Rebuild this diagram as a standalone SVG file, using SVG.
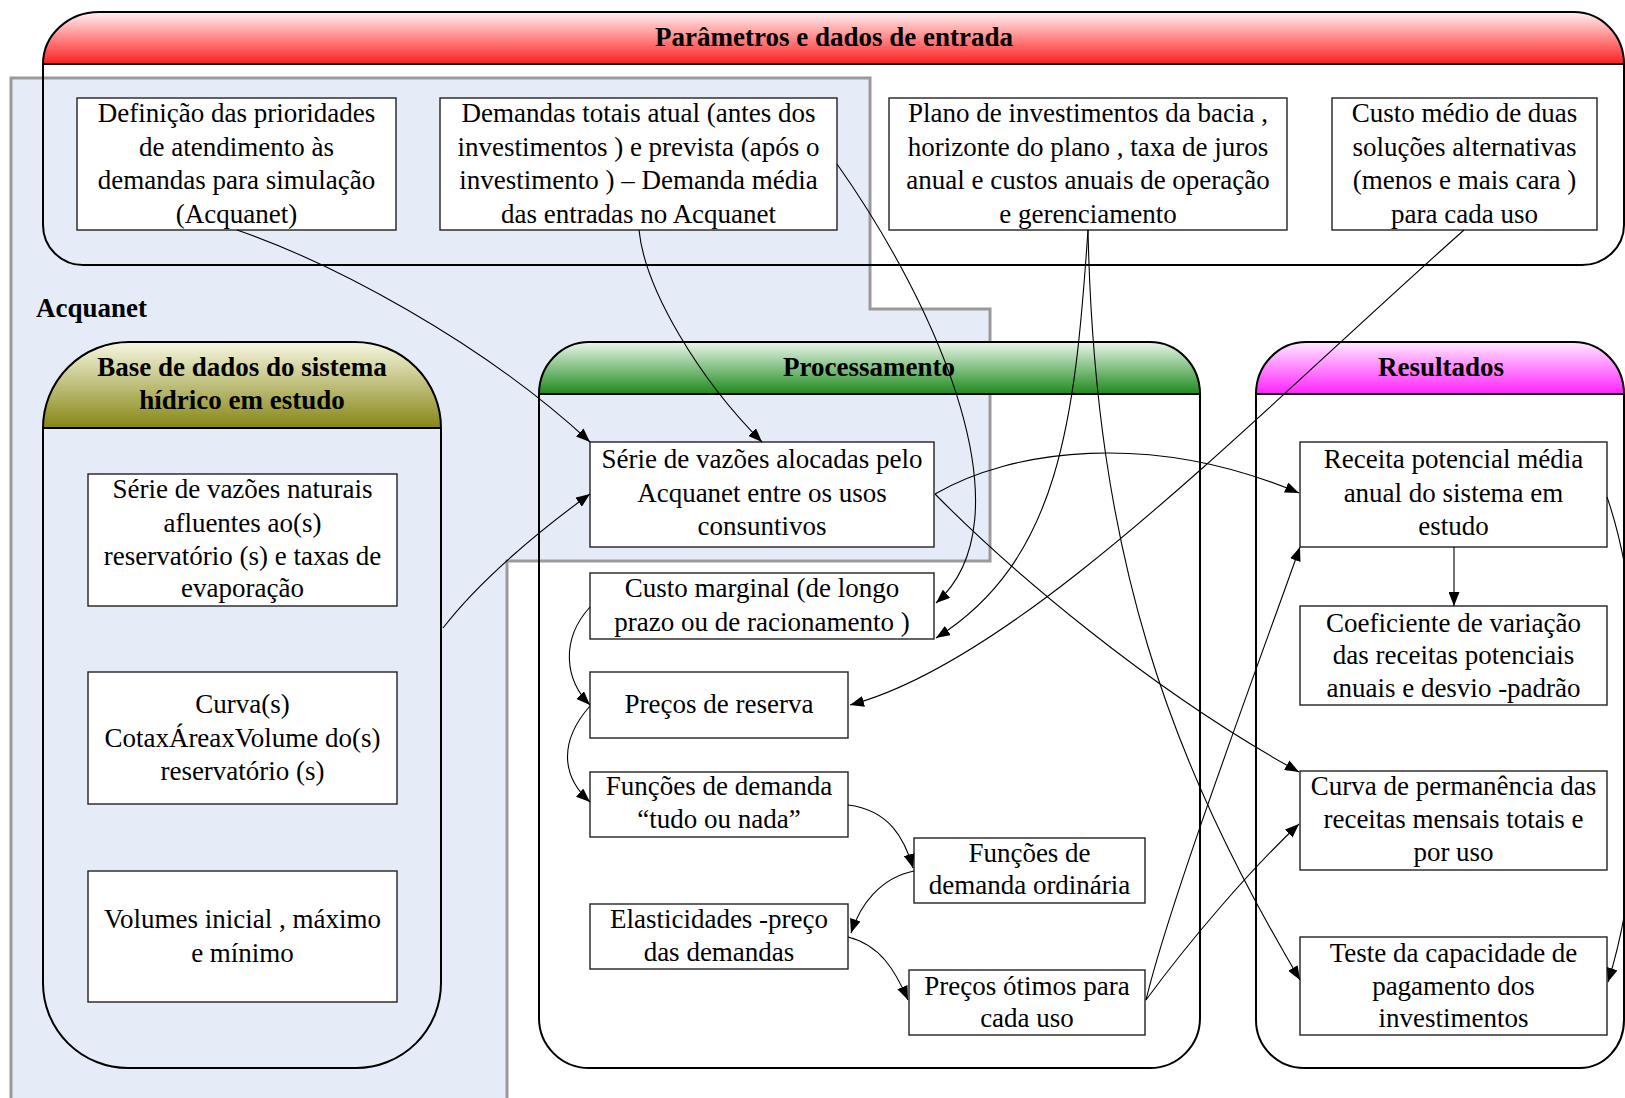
<svg xmlns="http://www.w3.org/2000/svg" width="1625" height="1098" viewBox="0 0 1625 1098">
<defs>
<linearGradient id="gRed" x1="0" y1="0" x2="0" y2="1"><stop offset="0" stop-color="#fff2f2"/><stop offset="1" stop-color="#ff1e1e"/></linearGradient>
<linearGradient id="gGreen" x1="0" y1="0" x2="0" y2="1"><stop offset="0" stop-color="#eaf6ea"/><stop offset="1" stop-color="#1d8a1d"/></linearGradient>
<linearGradient id="gOlive" x1="0" y1="0" x2="0" y2="1"><stop offset="0" stop-color="#f7f7e2"/><stop offset="1" stop-color="#868614"/></linearGradient>
<linearGradient id="gMag" x1="0" y1="0" x2="0" y2="1"><stop offset="0" stop-color="#ffeaff"/><stop offset="1" stop-color="#ff22ff"/></linearGradient>
<marker id="arr" markerUnits="userSpaceOnUse" markerWidth="15" markerHeight="11" refX="14" refY="5.5" orient="auto"><path d="M0,0 L14,5.5 L0,11 Z" fill="#000"/></marker>
</defs>
<style>
.cont{fill:none;stroke:#000;stroke-width:2}
.hdr{stroke:#000;stroke-width:2}
.box{fill:#fff;stroke:#222;stroke-width:1.4}
.t{font-family:"Liberation Serif",serif;font-size:27px;fill:#000;text-anchor:middle}
.h{font-family:"Liberation Serif",serif;font-size:27px;font-weight:bold;fill:#000;text-anchor:middle}
.c{fill:none;stroke:#000;stroke-width:1.1;marker-end:url(#arr)}
</style>
<rect width="1625" height="1098" fill="#fff"/>

<g id="acquanet-area">
<path d="M11 78 L870 78 L870 309 L990 309 L990 561 L507 561 L507 1100 L11 1100 Z" fill="#e6ecf7" stroke="#9a9a9a" stroke-width="3"/>
<text x="36" y="317" class="h" style="text-anchor:start">Acquanet</text>
</g>

<g id="parametros">
<path d="M43 64 A56 52 0 0 1 99 12 L1574 12 A50 52 0 0 1 1624 64 Z" fill="url(#gRed)" class="hdr"/>
<path d="M43 64 L43 225 A40 40 0 0 0 83 265 L1582 265 A42 40 0 0 0 1624 225 L1624 64" class="cont"/>
<text x="834" y="46" class="h">Parâmetros e dados de entrada</text>
</g>

<g id="base-dados">
<path d="M43 428 L43 428 A86 86 0 0 1 129 342 L355 342 A86 86 0 0 1 441 428 Z" fill="url(#gOlive)" class="hdr"/>
<path d="M43 428 L43 983 A85 85 0 0 0 128 1068 L356 1068 A85 85 0 0 0 441 983 L441 428" class="cont"/>
<text x="242" y="376" class="h">Base de dados do sistema</text>
<text x="242" y="409" class="h">hídrico em estudo</text>
</g>

<g id="processamento">
<path d="M539 394 A50 52 0 0 1 589 342 L1150 342 A50 52 0 0 1 1200 394 Z" fill="url(#gGreen)" class="hdr"/>
<path d="M539 394 L539 1018 A50 50 0 0 0 589 1068 L1150 1068 A50 50 0 0 0 1200 1018 L1200 394" class="cont"/>
<text x="869" y="376" class="h">Processamento</text>
</g>

<g id="resultados">
<path d="M1256 394 A50 52 0 0 1 1306 342 L1574 342 A50 52 0 0 1 1624 394 Z" fill="url(#gMag)" class="hdr"/>
<path d="M1256 394 L1256 1020 A48 48 0 0 0 1304 1068 L1580 1068 A44 48 0 0 0 1624 1020 L1624 394" class="cont"/>
<text x="1441" y="376" class="h">Resultados</text>
</g>

<g id="n-prioridades">
<rect x="77" y="98" width="319" height="132" class="box"/>
<text class="t" x="236.5" y="122">Definição das prioridades</text>
<text class="t" x="236.5" y="155.5">de atendimento às</text>
<text class="t" x="236.5" y="189">demandas para simulação</text>
<text class="t" x="236.5" y="222.5">(Acquanet)</text>
</g>
<g id="n-demandas">
<rect x="440" y="98" width="397" height="132" class="box"/>
<text class="t" x="638.5" y="122">Demandas totais atual (antes dos</text>
<text class="t" x="638.5" y="155.5">investimentos ) e prevista (após o</text>
<text class="t" x="638.5" y="189">investimento ) – Demanda média</text>
<text class="t" x="638.5" y="222.5">das entradas no Acquanet</text>
</g>
<g id="n-plano">
<rect x="889" y="98" width="398" height="132" class="box"/>
<text class="t" x="1088" y="122">Plano de investimentos da bacia ,</text>
<text class="t" x="1088" y="155.5">horizonte do plano , taxa de juros</text>
<text class="t" x="1088" y="189">anual e custos anuais de operação</text>
<text class="t" x="1088" y="222.5">e gerenciamento</text>
</g>
<g id="n-custo-medio">
<rect x="1332" y="98" width="265" height="132" class="box"/>
<text class="t" x="1464.5" y="122">Custo médio de duas</text>
<text class="t" x="1464.5" y="155.5">soluções alternativas</text>
<text class="t" x="1464.5" y="189">(menos e mais cara )</text>
<text class="t" x="1464.5" y="222.5">para cada uso</text>
</g>

<g id="n-serie-naturais">
<rect x="88" y="474" width="309" height="132" class="box"/>
<text class="t" x="242.5" y="498">Série de vazões naturais</text>
<text class="t" x="242.5" y="531.5">afluentes ao(s)</text>
<text class="t" x="242.5" y="565">reservatório (s) e taxas de</text>
<text class="t" x="242.5" y="597">evaporação</text>
</g>
<g id="n-curvas">
<rect x="88" y="672" width="309" height="132" class="box"/>
<text class="t" x="242.5" y="713">Curva(s)</text>
<text class="t" x="242.5" y="746.5">CotaxÁreaxVolume do(s)</text>
<text class="t" x="242.5" y="779.5">reservatório (s)</text>
</g>
<g id="n-volumes">
<rect x="88" y="871" width="309" height="131" class="box"/>
<text class="t" x="242.5" y="928">Volumes inicial , máximo</text>
<text class="t" x="242.5" y="961.5">e mínimo</text>
</g>

<g id="n-serie-alocadas">
<rect x="590" y="442" width="344" height="105" class="box"/>
<text class="t" x="762" y="468">Série de vazões alocadas pelo</text>
<text class="t" x="762" y="501.5">Acquanet entre os usos</text>
<text class="t" x="762" y="535">consuntivos</text>
</g>
<g id="n-custo-marginal">
<rect x="590" y="573" width="344" height="66" class="box"/>
<text class="t" x="762" y="597">Custo marginal (de longo</text>
<text class="t" x="762" y="631">prazo ou de racionamento )</text>
</g>
<g id="n-precos-reserva">
<rect x="590" y="672" width="258" height="66" class="box"/>
<text class="t" x="719" y="713">Preços de reserva</text>
</g>
<g id="n-funcoes-tudo">
<rect x="590" y="772" width="258" height="65" class="box"/>
<text class="t" x="719" y="795">Funções de demanda</text>
<text class="t" x="719" y="827.5">“tudo ou nada”</text>
</g>
<g id="n-funcoes-ordinaria">
<rect x="914" y="838" width="231" height="65" class="box"/>
<text class="t" x="1029.5" y="861.5">Funções de</text>
<text class="t" x="1029.5" y="893.5">demanda ordinária</text>
</g>
<g id="n-elasticidades">
<rect x="590" y="904" width="258" height="65" class="box"/>
<text class="t" x="719" y="928">Elasticidades -preço</text>
<text class="t" x="719" y="960.5">das demandas</text>
</g>
<g id="n-precos-otimos">
<rect x="909" y="970" width="236" height="65" class="box"/>
<text class="t" x="1027" y="995">Preços ótimos para</text>
<text class="t" x="1027" y="1027">cada uso</text>
</g>

<g id="n-receita">
<rect x="1300" y="442" width="307" height="105" class="box"/>
<text class="t" x="1453.5" y="468">Receita potencial média</text>
<text class="t" x="1453.5" y="501.5">anual do sistema em</text>
<text class="t" x="1453.5" y="535">estudo</text>
</g>
<g id="n-coeficiente">
<rect x="1300" y="606" width="307" height="99" class="box"/>
<text class="t" x="1453.5" y="631.5">Coeficiente de variação</text>
<text class="t" x="1453.5" y="664">das receitas potenciais</text>
<text class="t" x="1453.5" y="696.5">anuais e desvio -padrão</text>
</g>
<g id="n-curva-permanencia">
<rect x="1300" y="771" width="307" height="99" class="box"/>
<text class="t" x="1453.5" y="795">Curva de permanência das</text>
<text class="t" x="1453.5" y="828">receitas mensais totais e</text>
<text class="t" x="1453.5" y="861">por uso</text>
</g>
<g id="n-teste">
<rect x="1300" y="937" width="307" height="98" class="box"/>
<text class="t" x="1453.5" y="961.5">Teste da capacidade de</text>
<text class="t" x="1453.5" y="994.5">pagamento dos</text>
<text class="t" x="1453.5" y="1027">investimentos</text>
</g>

<g id="connectors">
<path class="c" d="M237 230 C330 262 480 340 590 442"/>
<path class="c" d="M639 230 C645 290 700 380 762 442"/>
<path class="c" d="M837 164 C940 310 1030 520 936 603"/>
<path class="c" d="M1088 230 C1075 420 1060 560 936 638"/>
<path class="c" d="M1088 230 C1095 560 1170 760 1300 980"/>
<path class="c" d="M1464 230 C1250 420 1020 660 850 705"/>
<path class="c" d="M443 628 C480 580 540 530 590 494"/>
<path class="c" d="M935 494 C1010 450 1150 430 1299 493"/>
<path class="c" d="M935 494 C1010 570 1150 690 1299 772"/>
<path class="c" d="M1146 1000 C1170 900 1260 660 1300 547"/>
<path class="c" d="M1146 1000 C1190 940 1250 870 1299 824"/>
<path class="c" d="M1454 547 L1454 606"/>
<path class="c" d="M1607 497 C1650 620 1650 850 1608 982"/>
<path class="c" d="M590 607 C560 640 565 680 590 705"/>
<path class="c" d="M590 706 C560 740 560 775 590 802"/>
<path class="c" d="M848 805 C890 810 905 840 913 868"/>
<path class="c" d="M914 871 C880 878 860 905 851 933"/>
<path class="c" d="M848 937 C880 945 895 970 908 1000"/>
</g>
</svg>
